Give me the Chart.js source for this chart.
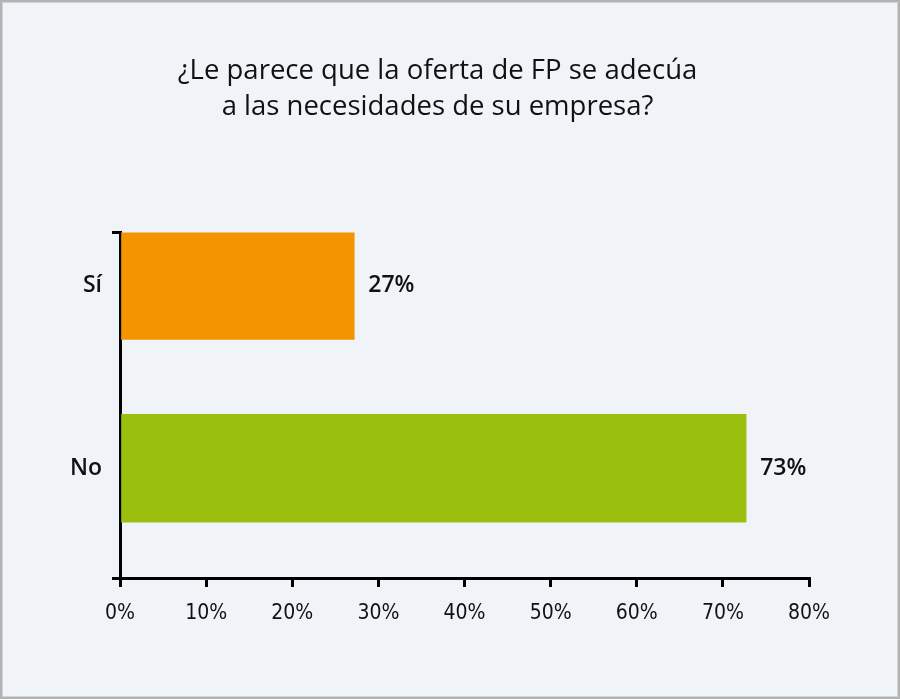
<!DOCTYPE html>
<html>
<head>
<meta charset="utf-8">
<script src="https://cdn.jsdelivr.net/npm/chart.js@4"></script>
<style>
    body { margin: 0; }
    #wrap {
        position: relative;
        width: 900px;
        height: 699px;
        background: #f0f4f8;
        box-shadow: inset 0 0 0 2px #b3b3b3, inset 0 0 0 3px #d2d4d6;
    }
    #answerChart { position: absolute; left: 0; top: 0; }
</style>
</head>
<body>
<div id="wrap"><canvas id="answerChart" width="900" height="699"></canvas></div>
<script>
const titleLines = ['¿Le parece que la oferta de FP se adecúa', 'a las necesidades de su empresa?']
const categories = ['Sí', 'No']
const percentages = [27.2, 72.7]
const valueLabels = ['27%', '73%']
const barColors = ['#f39400', '#9bbf0f']

const labelFont = { family: "'Open Sans', sans-serif", size: 23, weight: '600' }
const tickFont = { family: "'Liberation Sans Narrow', 'DejaVu Sans Condensed', sans-serif", size: 21 }

// draws the "27%" / "73%" next to each bar end
const barValues = {
    id: 'barValues',
    afterDatasetsDraw(chart) {
        const ctx = chart.ctx
        const meta = chart.getDatasetMeta(0)
        ctx.save()
        ctx.font = `${labelFont.weight} ${labelFont.size}px ${labelFont.family}`
        ctx.fillStyle = '#111'
        ctx.textBaseline = 'middle'
        meta.data.forEach((bar, i) => {
            ctx.fillText(valueLabels[i], bar.x + 14, bar.y)
        })
        ctx.restore()
    }
}

const yEnds = [-0.29, 1.6]

const ctx = document.getElementById('answerChart')
new Chart(ctx, {
    type: 'bar',
    data: {
        datasets: [{
            data: categories.map((c, i) => ({ x: percentages[i], y: i })),
            backgroundColor: barColors,
            barThickness: 108
        }]
    },
    options: {
        indexAxis: 'y',
        responsive: false,
        animation: false,
        layout: { padding: { top: 0, right: 91, bottom: 50, left: 66 } },
        plugins: {
            legend: { display: false },
            tooltip: { enabled: false },
            title: {
                display: true,
                text: titleLines,
                color: '#111',
                font: { family: "'Open Sans', sans-serif", size: 27.5, weight: '400', lineHeight: 1.28 },
                padding: { top: 54, bottom: 108 }
            }
        },
        scales: {
            x: {
                type: 'linear',
                min: 0,
                max: 80,
                ticks: {
                    stepSize: 10,
                    color: '#111',
                    font: tickFont,
                    padding: 14,
                    callback: v => v + '%'
                },
                grid: {
                    drawOnChartArea: false,
                    color: '#000',
                    lineWidth: 3,
                    tickLength: 9
                },
                border: { display: true, color: '#000', width: 3 },
                afterFit: scale => { scale.height = 71 }
            },
            y: {
                type: 'linear',
                reverse: true,
                offset: false,
                min: yEnds[0],
                max: yEnds[1],
                afterBuildTicks: scale => {
                    scale.ticks = [yEnds[0], 0, 1, yEnds[1]].map(v => ({ value: v }))
                },
                ticks: {
                    color: '#111',
                    font: labelFont,
                    padding: 10,
                    callback: v => categories[v] ?? ''
                },
                grid: {
                    offset: false,
                    drawOnChartArea: false,
                    color: c => (c.tick && Number.isInteger(c.tick.value)) ? 'rgba(0,0,0,0)' : '#000',
                    lineWidth: 3,
                    tickLength: 8
                },
                border: { display: true, color: '#000', width: 3 },
                afterFit: scale => { scale.width = 54 }
            }
        }
    },
    plugins: [barValues]
})
</script>
</body>
</html>
